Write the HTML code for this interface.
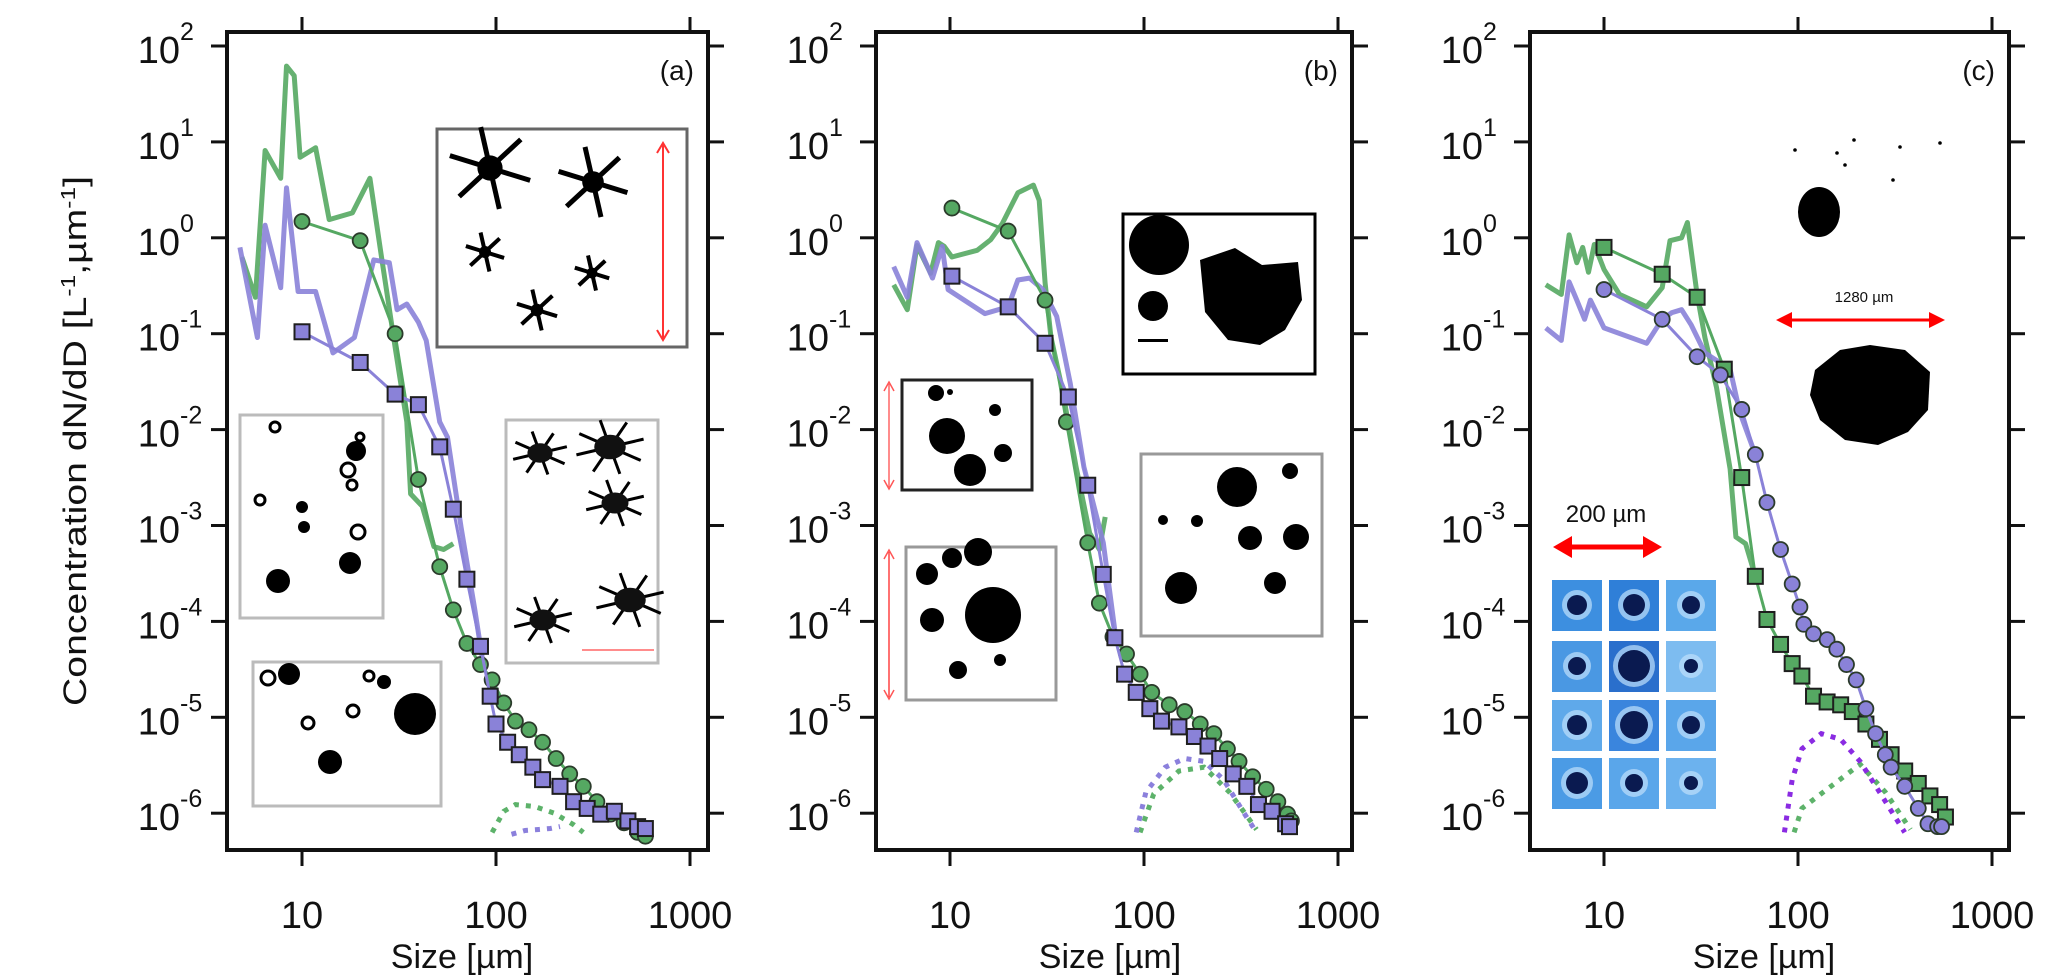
<!DOCTYPE html>
<html>
<head>
<meta charset="utf-8">
<style>
html,body{margin:0;padding:0;background:#fff;}
svg{display:block;}
text{font-family:"Liberation Sans",Arial,sans-serif;fill:#111;}
</style>
</head>
<body>
<svg id="fig" width="2067" height="977" viewBox="0 0 2067 977" xmlns="http://www.w3.org/2000/svg">
  <text transform="translate(86,441) rotate(-90)" text-anchor="middle" font-size="32" textLength="530" lengthAdjust="spacingAndGlyphs">Concentration dN/dD [L<tspan baseline-shift="super" font-size="20">-1</tspan>,µm<tspan baseline-shift="super" font-size="20">-1</tspan>]</text>
</svg>
<script>
// ---- data (log10 of size in µm, log10 of concentration) ----
// Panel a
const aGreenLineD = [0.69,0.76,0.81,0.89,0.92,0.96,0.99,1.07,1.14,1.26,1.35,1.41,1.48,1.54,1.56,1.62,1.68,1.73,1.78];
const aGreenLineN = [-0.2,-0.62,0.91,0.62,1.79,1.69,0.84,0.94,0.19,0.26,0.62,-0.2,-1.14,-1.92,-2.67,-2.8,-3.22,-3.25,-3.19];
const aPurpleLineD = [0.68,0.77,0.81,0.89,0.92,0.98,1.07,1.16,1.27,1.37,1.45,1.49,1.54,1.6,1.64,1.71,1.75,1.82,1.89,1.93];
const aPurpleLineN = [-0.1,-1.04,0.13,-0.52,0.52,-0.56,-0.56,-1.2,-1.04,-0.23,-0.26,-0.75,-0.69,-0.88,-1.07,-1.92,-2.08,-3.02,-3.87,-4.39];
const aGreenMarkD = [1.0,1.30,1.48,1.6,1.71,1.78,1.85,1.92,1.98,2.04,2.1,2.17,2.24,2.31,2.38,2.45,2.52,2.59,2.66,2.73,2.77];
const aGreenMarkN = [0.17,-0.03,-1.0,-2.52,-3.43,-3.88,-4.23,-4.45,-4.61,-4.85,-5.04,-5.13,-5.26,-5.43,-5.59,-5.72,-5.88,-6.01,-6.1,-6.2,-6.24];
const aPurpleMarkD = [1.0,1.30,1.48,1.6,1.71,1.78,1.85,1.92,1.97,2.0,2.06,2.12,2.19,2.24,2.33,2.40,2.47,2.54,2.61,2.68,2.73,2.77];
const aPurpleMarkN = [-0.98,-1.3,-1.63,-1.74,-2.18,-2.83,-3.56,-4.26,-4.78,-5.07,-5.26,-5.39,-5.52,-5.65,-5.72,-5.88,-5.95,-6.01,-5.98,-6.08,-6.14,-6.16];
const aGreenDotD = [1.98,2.04,2.1,2.2,2.3,2.4,2.45];
const aGreenDotN = [-6.2,-5.98,-5.91,-5.93,-6.0,-6.12,-6.2];
const aPurpleDotD = [2.08,2.15,2.22,2.28,2.33];
const aPurpleDotN = [-6.22,-6.18,-6.17,-6.16,-6.14];
// Panel b
const bGreenLineD = [0.71,0.78,0.83,0.90,0.94,0.97,1.01,1.14,1.21,1.27,1.35,1.43,1.46,1.49,1.52,1.58,1.65,1.72,1.77,1.80];
const bGreenLineN = [-0.49,-0.75,-0.08,-0.37,-0.05,-0.09,-0.2,-0.13,-0.02,0.15,0.47,0.55,0.39,-0.47,-1.03,-1.59,-2.39,-3.08,-3.25,-2.91];
const bPurpleLineD = [0.71,0.78,0.83,0.91,0.96,0.99,1.18,1.30,1.35,1.41,1.48,1.55,1.62,1.69,1.79,1.85];
const bPurpleLineN = [-0.30,-0.62,-0.05,-0.42,-0.09,-0.54,-0.79,-0.72,-0.44,-0.42,-0.54,-0.82,-1.52,-2.39,-3.18,-4.1];
const bGreenMarkD = [1.01,1.30,1.49,1.60,1.71,1.77,1.84,1.91,1.98,2.04,2.13,2.21,2.29,2.36,2.43,2.49,2.56,2.63,2.69,2.74,2.76];
const bGreenMarkN = [0.31,0.07,-0.65,-1.92,-3.18,-3.81,-4.16,-4.34,-4.55,-4.74,-4.87,-4.94,-5.07,-5.17,-5.33,-5.46,-5.62,-5.75,-5.88,-6.01,-6.08];
const bPurpleMarkD = [1.01,1.30,1.49,1.61,1.71,1.79,1.85,1.90,1.96,2.03,2.09,2.18,2.26,2.33,2.39,2.46,2.53,2.59,2.66,2.73,2.75];
const bPurpleMarkN = [-0.40,-0.72,-1.10,-1.66,-2.58,-3.51,-4.17,-4.55,-4.74,-4.91,-5.04,-5.1,-5.2,-5.3,-5.43,-5.59,-5.72,-5.91,-5.98,-6.11,-6.14];
const bGreenDotD = [1.98,2.05,2.18,2.31,2.44,2.52,2.58];
const bGreenDotN = [-6.2,-5.8,-5.56,-5.52,-5.78,-6.0,-6.17];
const bPurpleDotD = [1.96,2.01,2.11,2.21,2.31,2.41,2.51,2.58];
const bPurpleDotN = [-6.2,-5.78,-5.52,-5.43,-5.46,-5.65,-5.98,-6.2];
// Panel c
const cGreenLineD = [0.70,0.78,0.82,0.86,0.89,0.92,0.95,1.0,1.08,1.22,1.30,1.34,1.40,1.43,1.48,1.52,1.58,1.65,1.68,1.73,1.78];
const cGreenLineN = [-0.49,-0.59,0.03,-0.26,-0.1,-0.36,-0.07,-0.33,-0.59,-0.72,-0.52,-0.03,0.0,0.16,-0.59,-1.04,-1.56,-2.41,-3.12,-3.19,-3.53];
const cPurpleLineD = [0.70,0.78,0.82,0.86,0.90,0.93,1.0,1.22,1.30,1.35,1.40,1.45,1.52,1.65,1.70,1.78];
const cPurpleLineN = [-0.94,-1.07,-0.46,-0.65,-0.85,-0.65,-0.94,-1.1,-0.85,-0.78,-0.75,-0.91,-1.2,-1.37,-1.82,-2.26];
const cGreenMarkD = [1.0,1.3,1.48,1.62,1.71,1.78,1.84,1.91,1.97,2.02,2.08,2.15,2.22,2.28,2.35,2.42,2.48,2.55,2.62,2.68,2.73,2.76];
const cGreenMarkN = [-0.10,-0.38,-0.62,-1.37,-2.5,-3.53,-3.98,-4.24,-4.44,-4.57,-4.78,-4.84,-4.87,-4.94,-5.07,-5.23,-5.39,-5.56,-5.69,-5.82,-5.91,-6.04];
const cPurpleMarkD = [1.0,1.3,1.48,1.6,1.71,1.78,1.84,1.91,1.97,2.01,2.03,2.08,2.15,2.2,2.25,2.3,2.35,2.4,2.45,2.48,2.55,2.62,2.67,2.72,2.74];
const cPurpleMarkN = [-0.54,-0.85,-1.24,-1.43,-1.79,-2.26,-2.76,-3.25,-3.61,-3.85,-4.03,-4.13,-4.19,-4.29,-4.45,-4.61,-4.91,-5.17,-5.39,-5.52,-5.72,-5.95,-6.11,-6.14,-6.14];
const cGreenDotD = [1.98,2.02,2.15,2.32,2.45,2.58];
const cGreenDotN = [-6.2,-5.95,-5.75,-5.49,-5.78,-6.17];
const cPurpleDotD = [1.93,1.97,2.02,2.12,2.22,2.32,2.42,2.55];
const cPurpleDotN = [-6.2,-5.65,-5.33,-5.17,-5.23,-5.46,-5.78,-6.2];
// axis ticks
const xTickLog = [1,2,3];
const xTickLabels = ["10","100","1000"];
const yTickExp = [2,1,0,-1,-2,-3,-4,-5,-6];

const NS = "http://www.w3.org/2000/svg";
const svg = document.getElementById('fig');
function mk(tag, attrs, parent){
  const e = document.createElementNS(NS, tag);
  for (const k in attrs) e.setAttribute(k, attrs[k]);
  (parent||svg).appendChild(e);
  return e;
}
const TOP=32, BOT=850, Y2=46, YDEC=95.9, XDEC=194;
function yScale(v){ return Y2 + (2 - v) * YDEC; }
function makeX(x10){ return v => x10 + (v - 1) * XDEC; }

const panels = [
  {id:'a', left:227, right:708, x10:302, label:'(a)',
   gl:[aGreenLineD,aGreenLineN], pl:[aPurpleLineD,aPurpleLineN],
   gm:[aGreenMarkD,aGreenMarkN], pm:[aPurpleMarkD,aPurpleMarkN],
   gd:[aGreenDotD,aGreenDotN], pd:[aPurpleDotD,aPurpleDotN], gShape:'circle', pShape:'square', pdColor:'#8b80dc'},
  {id:'b', left:876, right:1352, x10:950, label:'(b)',
   gl:[bGreenLineD,bGreenLineN], pl:[bPurpleLineD,bPurpleLineN],
   gm:[bGreenMarkD,bGreenMarkN], pm:[bPurpleMarkD,bPurpleMarkN],
   gd:[bGreenDotD,bGreenDotN], pd:[bPurpleDotD,bPurpleDotN], gShape:'circle', pShape:'square', pdColor:'#8b80dc'},
  {id:'c', left:1530, right:2009, x10:1604, label:'(c)',
   gl:[cGreenLineD,cGreenLineN], pl:[cPurpleLineD,cPurpleLineN],
   gm:[cGreenMarkD,cGreenMarkN], pm:[cPurpleMarkD,cPurpleMarkN],
   gd:[cGreenDotD,cGreenDotN], pd:[cPurpleDotD,cPurpleDotN], gShape:'square', pShape:'circle', pdColor:'#8a2be2'}
];

const GREEN='#55a862', PURPLE='#8a82d8';

function pathFrom(xs, ds, ns){
  let d='';
  for(let i=0;i<ds.length;i++){ d += (i?'L':'M') + xs(ds[i]).toFixed(1) + ',' + yScale(ns[i]).toFixed(1); }
  return d;
}

function drawInsets(p, g){
  if(p.id==='a'){
    const b1 = mk('rect',{x:437,y:129,width:250,height:218,fill:'#fff',stroke:'#666','stroke-width':3},g);
    
    
    const stars=[[490,168,42],[593,182,36],[485,252,20],[592,273,18],[537,310,21]];
    stars.forEach(s=>{ for(let k=0;k<6;k++){ const a=k*Math.PI/3+0.3; mk('line',{x1:s[0],y1:s[1],x2:s[0]+s[2]*Math.cos(a),y2:s[1]+s[2]*Math.sin(a),stroke:'#000','stroke-width':s[2]>30?5:4},g);} mk('circle',{cx:s[0],cy:s[1],r:s[2]*0.3,fill:'#000'},g);});
    mk('line',{x1:663,y1:145,x2:663,y2:338,stroke:'#f33','stroke-width':2},g);
    mk('path',{d:'M657,153 L663,143 L669,153 M657,330 L663,340 L669,330',stroke:'#f33','stroke-width':2,fill:'none'},g);
    const b2 = mk('rect',{x:240,y:415,width:143,height:203,fill:'#fff',stroke:'#bbb','stroke-width':3},g);
    
    
    [[275,427,5,1],[356,451,10,0],[360,437,4,1],[348,470,7,1],[352,485,5,1],[260,500,5,1],[302,507,6,0],[304,527,6,0],[358,532,7,1],[350,563,11,0],[278,581,12,0]].forEach(c=>{
      mk('circle',{cx:c[0],cy:c[1],r:c[2],fill:c[3]?'#fff':'#000',stroke:'#000','stroke-width':c[3]?3:0},g);});
    const b3 = mk('rect',{x:253,y:662,width:188,height:144,fill:'#fff',stroke:'#bbb','stroke-width':3},g);
    
    
    [[268,678,7,1],[289,674,11,0],[369,676,5,1],[384,682,7,0],[415,714,21,0],[353,711,6,1],[308,723,6,1],[330,762,12,0]].forEach(c=>{
      mk('circle',{cx:c[0],cy:c[1],r:c[2],fill:c[3]?'#fff':'#000',stroke:'#000','stroke-width':c[3]?3:0},g);});
    const b4 = mk('rect',{x:506,y:420,width:152,height:243,fill:'#fff',stroke:'#bbb','stroke-width':3},g);
    
    
    [[540,453,28],[610,447,35],[615,503,30],[543,620,30],[630,600,35]].forEach(s=>{ for(let k=0;k<8;k++){ const a=k*Math.PI/4+0.5; mk('line',{x1:s[0],y1:s[1],x2:s[0]+s[2]*Math.cos(a),y2:s[1]+s[2]*Math.sin(a)*0.8,stroke:'#000','stroke-width':3},g);} mk('ellipse',{cx:s[0],cy:s[1],rx:s[2]*0.45,ry:s[2]*0.35,fill:'#111'},g);});
    mk('line',{x1:582,y1:650,x2:654,y2:650,stroke:'#f66','stroke-width':1.5},g);
  }
  if(p.id==='b'){
    const r1 = mk('rect',{x:1123,y:214,width:192,height:160,fill:'#fff',stroke:'#000','stroke-width':3},g);
    
    
    mk('circle',{cx:1159,cy:245,r:30,fill:'#000'},g);
    mk('circle',{cx:1153,cy:306,r:15,fill:'#000'},g);
    mk('path',{d:'M1200,260 L1235,248 L1262,265 L1298,262 L1302,300 L1285,330 L1260,345 L1228,340 L1205,312 Z',fill:'#000'},g);
    mk('rect',{x:1138,y:339,width:30,height:3,fill:'#000'},g);
    const r2 = mk('rect',{x:1141,y:454,width:181,height:182,fill:'#fff',stroke:'#999','stroke-width':3},g);
    
    
    [[1237,487,20],[1290,471,8],[1197,521,6],[1163,520,5],[1250,538,12],[1296,537,13],[1181,588,16],[1275,583,11]].forEach(c=>mk('circle',{cx:c[0],cy:c[1],r:c[2],fill:'#000'},g));
    const r3 = mk('rect',{x:902,y:380,width:130,height:110,fill:'#fff',stroke:'#222','stroke-width':3},g);
    
    
    [[936,393,8],[947,436,18],[970,470,16],[1003,453,9],[950,392,3],[995,410,6]].forEach(c=>mk('circle',{cx:c[0],cy:c[1],r:c[2],fill:'#000'},g));
    const r4 = mk('rect',{x:906,y:547,width:150,height:153,fill:'#fff',stroke:'#999','stroke-width':3},g);
    
    
    [[927,574,11],[952,558,10],[978,552,14],[993,615,28],[932,620,12],[958,670,9],[1000,660,6],[953,556,4]].forEach(c=>mk('circle',{cx:c[0],cy:c[1],r:c[2],fill:'#000'},g));
    mk('line',{x1:889,y1:384,x2:889,y2:487,stroke:'#f66','stroke-width':1.5},g);
    mk('line',{x1:889,y1:552,x2:889,y2:697,stroke:'#f44','stroke-width':1.5},g);
    mk('path',{d:'M884,391 L889,382 L894,391 M884,480 L889,489 L894,480 M884,559 L889,550 L894,559 M884,690 L889,699 L894,690',stroke:'#f55','stroke-width':1.5,fill:'none'},g);
  }
  if(p.id==='c'){
    mk('ellipse',{cx:1819,cy:212,rx:21,ry:25,fill:'#000'},g);
    [[1795,150],[1854,140],[1900,147],[1837,153],[1893,180],[1940,143],[1845,165]].forEach(c=>mk('circle',{cx:c[0],cy:c[1],r:1.8,fill:'#000'},g));
    mk('path',{d:'M1815,370 L1840,350 L1870,345 L1905,350 L1930,372 L1928,410 L1908,432 L1878,445 L1845,440 L1820,420 L1810,395 Z',fill:'#000'},g);
    mk('line',{x1:1784,y1:320,x2:1937,y2:320,stroke:'#f00','stroke-width':3},g);
    mk('path',{d:'M1776,320 L1792,312 L1792,328 Z M1945,320 L1929,312 L1929,328 Z',fill:'#f00'},g);
    const t1 = mk('text',{x:1864,y:302,'text-anchor':'middle','font-size':15},g); t1.textContent='1280 µm';
    
    
    const t2 = mk('text',{x:1606,y:522,'text-anchor':'middle','font-size':24},g); t2.textContent='200 µm';
    
    
    mk('line',{x1:1568,y1:547,x2:1647,y2:547,stroke:'#f00','stroke-width':5},g);
    mk('path',{d:'M1553,547 L1572,536 L1572,558 Z M1662,547 L1643,536 L1643,558 Z',fill:'#f00'},g);
    const colX=[1552,1609,1666], rowY=[580,641,700,758];
    const shades=[['#3d8fe0','#2f7fd8','#5aa8ea'],['#4a98e3','#2a6fcc','#7dbcf0'],['#5fa9ea','#3a85dd','#5aa6ea'],['#4b9be5','#5aa6ea','#6cb2ee']];
    const rr=[[10,11,9],[9,16,7],[10,14,9],[11,9,7]];
    const gg = mk('g',{},g);
    
    
    for(let r=0;r<4;r++) for(let c=0;c<3;c++){
      mk('rect',{x:colX[c],y:rowY[r],width:50,height:51,fill:shades[r][c]},gg);
      mk('circle',{cx:colX[c]+25,cy:rowY[r]+25,r:rr[r][c]+5,fill:'#bfe0fb',opacity:0.7},gg);
      mk('circle',{cx:colX[c]+25,cy:rowY[r]+25,r:rr[r][c],fill:'#0a1a50'},gg);
    }
  }
}

panels.forEach(p=>{
  const xs = makeX(p.x10);
  const g = mk('g',{});
  
  
  mk('rect',{x:p.left,y:TOP,width:p.right-p.left,height:BOT-TOP,fill:'#fff'},g);
  drawInsets(p,g);
  const lineG = mk('path',{d:pathFrom(xs,p.gl[0],p.gl[1]),fill:'none',stroke:GREEN,'stroke-width':5,'stroke-linejoin':'round',opacity:0.9},g);
  
  
  const lineP = mk('path',{d:pathFrom(xs,p.pl[0],p.pl[1]),fill:'none',stroke:PURPLE,'stroke-width':5,'stroke-linejoin':'round',opacity:0.9},g);
  
  
  const dotG = mk('path',{d:pathFrom(xs,p.gd[0],p.gd[1]),fill:'none',stroke:'#5db26a','stroke-width':5,'stroke-dasharray':'5 7'},g);
  
  
  const dotP = mk('path',{d:pathFrom(xs,p.pd[0],p.pd[1]),fill:'none',stroke:p.pdColor,'stroke-width':5,'stroke-dasharray':'5 7'},g);
  
  
  [['g',p.gm,GREEN,p.gShape],['p',p.pm,PURPLE,p.pShape]].forEach(s=>{
    const col=s[2];
    const ln = mk('path',{d:pathFrom(xs,s[1][0],s[1][1]),fill:'none',stroke:col,'stroke-width':3},g);
    
    
    for(let i=0;i<s[1][0].length;i++){
      const cx=xs(s[1][0][i]), cy=yScale(s[1][1][i]);
      let m;
      if(s[3]==='circle') m = mk('circle',{cx:cx,cy:cy,r:7.5,fill:col,stroke:'#2b3b2b','stroke-width':1.8},g);
      else m = mk('rect',{x:cx-7.5,y:cy-7.5,width:15,height:15,fill:col,stroke:'#1e1e1e','stroke-width':2},g);
      
      
    }
  });
  const fr = mk('rect',{x:p.left,y:TOP,width:p.right-p.left,height:BOT-TOP,fill:'none',stroke:'#111','stroke-width':4},g);
  
  
  xTickLog.forEach((v,i)=>{
    const x=xs(v);
    mk('line',{x1:x,y1:TOP-15,x2:x,y2:TOP,stroke:'#111','stroke-width':3},g);
    mk('line',{x1:x,y1:BOT,x2:x,y2:BOT+16,stroke:'#111','stroke-width':3},g);
    const t = mk('text',{x:x,y:928,'text-anchor':'middle','font-size':38},g);
    t.textContent = xTickLabels[i];
    
    
  });
  yTickExp.forEach(v=>{
    const y=yScale(v);
    mk('line',{x1:p.left-16,y1:y,x2:p.left,y2:y,stroke:'#111','stroke-width':3},g);
    mk('line',{x1:p.right,y1:y,x2:p.right+16,y2:y,stroke:'#111','stroke-width':3},g);
    const t = mk('text',{x:p.left-47,y:y+17,'text-anchor':'end','font-size':38},g);
    t.textContent='10';
    
    
    const s = mk('text',{x:p.left-47,y:y-6,'text-anchor':'start','font-size':25},g);
    s.textContent=String(v);
    
    
  });
  const lab = mk('text',{x:p.right-14,y:80,'text-anchor':'end','font-size':28},g);
  lab.textContent=p.label;
  
  
  const xt = mk('text',{x:(p.x10+XDEC)-34,y:968,'text-anchor':'middle','font-size':34},g);
  xt.textContent='Size [µm]';
  
  
});
</script>
</body>
</html>
